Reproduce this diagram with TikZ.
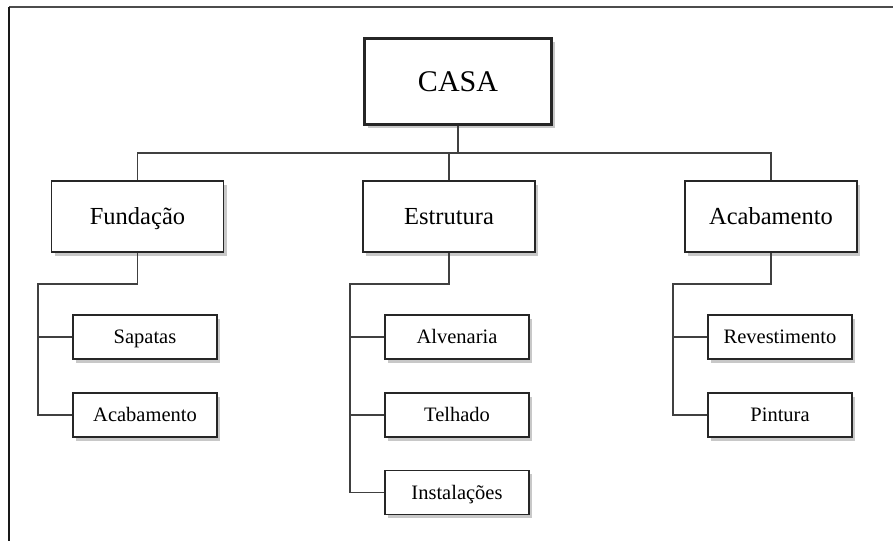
\documentclass[tikz,border=0pt]{standalone}
\usepackage{fontspec}
\setmainfont{Liberation Serif}
\usetikzlibrary{shadows}
\begin{document}
\begin{tikzpicture}[x=1pt,y=-1pt,
  boxbase/.style={draw=black!85, fill=white, inner sep=0pt, align=center,
    text depth=0pt,
    drop shadow={shadow xshift=3pt, shadow yshift=-3.5pt, opacity=0.3, fill=black!70}},
  rootbox/.style={boxbase, line width=3.5pt, minimum width=187pt, minimum height=86pt, text height=20pt, font=\fontsize{30}{32}\selectfont},
  midbox/.style={boxbase, line width=1.3pt, minimum width=172pt, minimum height=71pt, text height=16pt, font=\fontsize{24.5}{26}\selectfont},
  leafbox/.style={boxbase, line width=1.6pt, minimum width=144pt, minimum height=44pt, text height=13.5pt, font=\fontsize{20.5}{22}\selectfont},
  link/.style={draw=black!75, line width=1.3pt}]
\useasboundingbox (0,0) rectangle (893,541);
\fill[white] (0,0) rectangle (893,541);
% frame
\draw[black!70, line width=2pt] (9,7) -- (893,7);
\draw[black!90, line width=2pt] (9,7) -- (9,541);

% nodes
\node[rootbox] (casa) at (458,81.5) {CASA};
\node[midbox] (fund) at (137.5,216.5) {Fundação};
\node[midbox] (estr) at (449,216.5) {Estrutura};
\node[midbox] (acab) at (771,216.5) {Acabamento};

\node[leafbox] (sap) at (145,337) {Sapatas};
\node[leafbox] (acf) at (145,415) {Acabamento};
\node[leafbox] (alv) at (457,337) {Alvenaria};
\node[leafbox] (tel) at (457,415) {Telhado};
\node[leafbox] (ins) at (457,492.5) {Instalações};
\node[leafbox] (rev) at (780,337) {Revestimento};
\node[leafbox] (pin) at (780,415) {Pintura};

% coordinates
\coordinate (bus) at (458,153);
\coordinate (fk) at (38,284);
\coordinate (ek) at (350,284);
\coordinate (ak) at (673,284);

% connectors level 1
\draw[link] (casa.south) -- (bus);
\draw[link] (fund.north) |- (bus);
\draw[link] (acab.north) |- (bus);
\draw[link] (estr.north) |- (bus);

% Fundação
\draw[link] (fund.south) |- (fk) |- (acf.west);
\draw[link] (fk |- sap.west) -- (sap.west);
% Estrutura
\draw[link] (estr.south) |- (ek) |- (ins.west);
\draw[link] (ek |- alv.west) -- (alv.west);
\draw[link] (ek |- tel.west) -- (tel.west);
% Acabamento
\draw[link] (acab.south) |- (ak) |- (pin.west);
\draw[link] (ak |- rev.west) -- (rev.west);
\end{tikzpicture}
\end{document}
